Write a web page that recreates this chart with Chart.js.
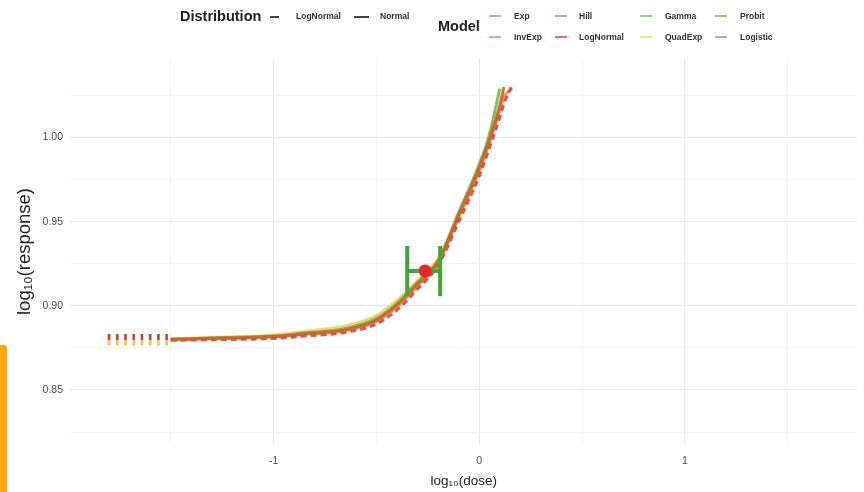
<!DOCTYPE html>
<html>
<head>
<meta charset="utf-8">
<script src="https://cdn.jsdelivr.net/npm/chart.js@4"></script>
<style>
  html, body { margin: 0; padding: 0; background: #fff; }
  #wrap { position: relative; width: 864px; height: 492px; font-family: "Liberation Sans", Arial, sans-serif; }
  #plot { position: absolute; left: 0; top: 0; }
  .lg { position: absolute; white-space: nowrap; font-weight: bold; }
  .lgTitle { font-size: 14.5px; color: #222; }
  .lgItem { font-size: 8.5px; color: #333; }
  .sw { position: absolute; height: 2px; }
  #tab { position: absolute; left: 0; top: 345px; width: 7px; height: 147px; background: #f9a90f; border-top-right-radius: 3px; }
</style>
</head>
<body>
<div id="wrap">
  <canvas id="plot" width="864" height="492"></canvas>
  <div id="legend"></div>
  <div id="tab"></div>
</div>
<script>
// axis ticks
const xTicks = [-1.5, -1, -0.5, 0, 0.5, 1, 1.5]
const xTickLabels = ['', '-1', '', '0', '', '1', '']
const yTicks = [0.825, 0.85, 0.875, 0.9, 0.925, 0.95, 0.975, 1.0, 1.025]
const yTickLabels = ['', '0.85', '', '0.90', '', '0.95', '', '1.00', '']

// fitted curves, log10(dose) vs log10(response)
const xDose = [-1.5, -1.25, -1.0, -0.85, -0.65, -0.5, -0.4, -0.3, -0.2, -0.1, 0.0, 0.05, 0.1, 0.12, 0.16]
const fitBrown  = [0.8800, 0.8808, 0.8817, 0.8834, 0.8858, 0.8915, 0.9005, 0.9130, 0.9260, 0.9540, 0.9820, 0.9990, 1.0190, 1.0300, null]
const fitYellow = [0.8804, 0.8814, 0.8827, 0.8848, 0.8880, 0.8942, 0.9032, 0.9150, 0.9280, 0.9530, 0.9800, 0.9970, 1.0170, 1.0260, null]
const fitGreen  = [0.8801, 0.8810, 0.8820, 0.8838, 0.8865, 0.8925, 0.9015, 0.9140, 0.9270, 0.9555, 0.9840, 1.0020, 1.0290, null, null]
const fitOrange = [0.8799, 0.8806, 0.8814, 0.8830, 0.8852, 0.8905, 0.8992, 0.9118, 0.9250, 0.9525, 0.9800, 0.9970, 1.0160, 1.0240, 1.0290]
const fitRed    = [0.8795, 0.8799, 0.8806, 0.8820, 0.8842, 0.8892, 0.8975, 0.9100, 0.9240, 0.9500, 0.9770, 0.9940, 1.0120, 1.0200, 1.0310]

// extrapolated low-dose marks
const lowX = [-1.80, -1.76, -1.72, -1.68, -1.64, -1.60, -1.56, -1.52]
const lowRed = 0.8815
const lowYellow = 0.8781

// benchmark point and interval
const bmdX = -0.263
const bmdY = 0.9207
const bmdLow = -0.350
const bmdHigh = -0.190
const capLow = 0.9058
const capHigh = 0.9355

// legend
const distLabels = ['LogNormal', 'Normal']
const modelLabels = ['Exp', 'InvExp', 'Hill', 'LogNormal', 'Gamma', 'QuadExp', 'Probit', 'Logistic']
const modelColors = ['#7fcdb8', '#f2a37c', '#aaa6d8', '#e6609a', '#9fd47f', '#efe08c', '#c9b07a', '#aaaaaa']

const legend = document.getElementById('legend')
const addDiv = (cls, text, left, top, extra) => {
  const d = document.createElement('div')
  d.className = cls
  d.textContent = text
  d.style.left = left + 'px'
  d.style.top = top + 'px'
  if (extra) Object.assign(d.style, extra)
  legend.appendChild(d)
}
addDiv('lg lgTitle', 'Distribution', 180, 8)
const distSw = [270, 354]
const distTx = [296, 380]
distLabels.forEach((l, i) => {
  addDiv('sw', '', distSw[i], 16, { width: (i ? 15 : 9) + 'px', background: '#444' })
  addDiv('lg lgItem', l, distTx[i], 11)
})
addDiv('lg lgTitle', 'Model', 438, 18)
const colSw = [489, 555, 640, 715]
const colTx = [514, 579, 665, 740]
const rowY = [16, 37]
modelLabels.forEach((l, i) => {
  const c = Math.floor(i / 2), r = i % 2
  addDiv('sw', '', colSw[c], rowY[r] - 1, { width: '12px', background: modelColors[i] })
  addDiv('lg lgItem', l, colTx[c], rowY[r] - 5)
})

const pts = (ys) => ys.map((y, i) => ({ x: xDose[i], y }))
const curve = (ys, color, order, dash) => ({
  type: 'line', data: pts(ys), borderColor: color, borderWidth: 3,
  borderDash: dash || [], pointRadius: 0, cubicInterpolationMode: 'monotone',
  spanGaps: false, order
})
const seg = (data, order) => ({
  type: 'line', data, borderColor: '#3aaa35', borderWidth: 4, pointRadius: 0, order
})

const gridColor = (labels) => (ctx) => labels[ctx.index] ? '#e9e9e9' : '#f4f4f4'
const font = '"Liberation Sans", Arial, sans-serif'

new Chart(document.getElementById('plot'), {
  type: 'line',
  data: {
    datasets: [
      { type: 'scatter', data: [{ x: bmdX, y: bmdY }], pointRadius: 6.5, pointBackgroundColor: '#e8262a', pointBorderWidth: 0, order: 0 },
      seg([{ x: bmdLow, y: bmdY }, { x: bmdHigh, y: bmdY }], 1),
      seg([{ x: bmdLow, y: capLow }, { x: bmdLow, y: capHigh }], 1),
      seg([{ x: bmdHigh, y: capLow }, { x: bmdHigh, y: capHigh }], 1),
      curve(fitBrown, 'rgba(192,103,42,0.9)', 2),
      curve(fitRed, 'rgba(226,62,70,0.9)', 3, [6, 4]),
      curve(fitOrange, 'rgba(232,140,70,0.85)', 4),
      curve(fitGreen, 'rgba(106,170,58,0.8)', 5),
      curve(fitYellow, 'rgba(240,208,110,0.95)', 6),
      { type: 'scatter', data: lowX.map(x => ({ x, y: lowRed })), pointStyle: 'line', rotation: 90,
        pointRadius: 3, pointBorderWidth: 2.6, pointBorderColor: '#c8423a', order: 7 },
      { type: 'scatter', data: lowX.map(x => ({ x, y: lowYellow })), pointStyle: 'line', rotation: 90,
        pointRadius: 3, pointBorderWidth: 2.6, pointBorderColor: '#eec55a', order: 8 }
    ]
  },
  options: {
    responsive: false,
    animation: false,
    layout: { padding: { top: 58, right: 0, left: 0, bottom: 0 } },
    plugins: { legend: { display: false }, tooltip: { enabled: false } },
    scales: {
      x: {
        type: 'linear', min: -1.99, max: 1.839,
        afterBuildTicks: (s) => { s.ticks = xTicks.map(v => ({ value: v })) },
        afterFit: (s) => { s.height = 47; s.paddingLeft = 0; s.paddingRight = 0 },
        ticks: { autoSkip: false, maxRotation: 0, padding: 10, color: '#4d4d4d',
          font: { size: 10.5, family: font },
          callback: (v, i) => xTickLabels[i] },
        grid: { drawTicks: false, color: gridColor(xTickLabels), lineWidth: 1 },
        border: { display: false },
        title: { display: true, text: 'log₁₀(dose)', color: '#222', padding: { top: 0, bottom: 3 },
          font: { size: 13.5, family: font } }
      },
      y: {
        type: 'linear', min: 0.8173, max: 1.0472,
        afterBuildTicks: (s) => { s.ticks = yTicks.map(v => ({ value: v })) },
        afterFit: (s) => { s.width = 70 },
        ticks: { autoSkip: false, padding: 7, color: '#4d4d4d',
          font: { size: 10.5, family: font },
          callback: (v, i) => yTickLabels[i] },
        grid: { drawTicks: false, color: gridColor(yTickLabels), lineWidth: 1 },
        border: { display: false },
        title: { display: true, text: 'log₁₀(response)', color: '#222', padding: { top: 14, bottom: 0 },
          font: { size: 18.5, family: font } }
      }
    }
  }
})
</script>
</body>
</html>
